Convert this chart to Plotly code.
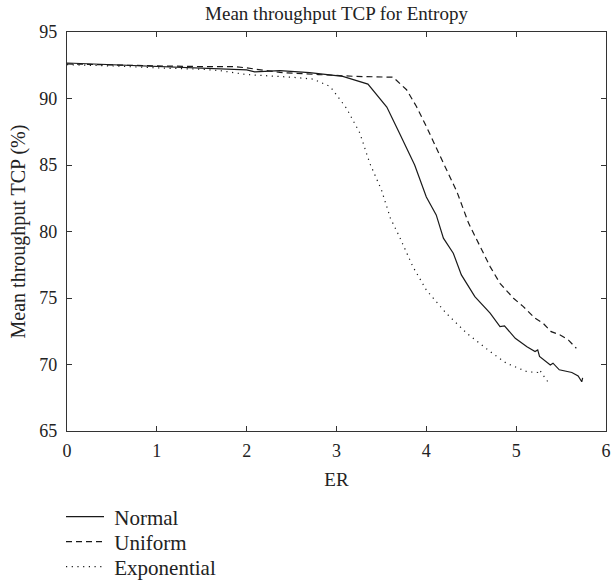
import plotly.graph_objects as go

normal_x = [0, 0.5, 1.0, 1.5, 2.0, 2.09, 2.37, 2.7, 3.07, 3.35, 3.56, 3.70, 3.87, 4.00, 4.11, 4.19, 4.30, 4.39,
            4.54, 4.71, 4.82, 4.87, 4.99, 5.12, 5.21, 5.24, 5.26, 5.38, 5.41, 5.48, 5.62, 5.69, 5.73, 5.74]
normal_y = [92.67, 92.55, 92.4, 92.3, 92.15, 92.0, 92.1, 91.95, 91.66, 91.08, 89.36, 87.4, 85.0, 82.6, 81.25, 79.5,
            78.37, 76.74, 75.1, 73.86, 72.85, 72.9, 71.97, 71.34, 70.97, 71.1, 70.6, 69.97, 70.1, 69.6, 69.4,
            69.14, 68.7, 69.0]

uniform_x = [0, 0.5, 1.0, 1.5, 1.86, 2.0, 2.2, 2.37, 2.8, 3.22, 3.63, 3.78, 3.89, 4.0, 4.19, 4.34, 4.47, 4.60,
             4.71, 4.82, 4.97, 5.08, 5.21, 5.30, 5.39, 5.49, 5.58, 5.67]
uniform_y = [92.6, 92.5, 92.45, 92.4, 92.4, 92.3, 92.1, 91.96, 91.8, 91.66, 91.6, 90.66, 89.4, 87.9, 85.14, 83.0,
             80.63, 78.87, 77.36, 76.1, 74.98, 74.35, 73.48, 73.1, 72.47, 72.22, 71.85, 71.22]

expo_x = [0, 0.5, 1.0, 1.5, 1.7, 2.0, 2.5, 2.74, 2.93, 3.11, 3.26, 3.37, 3.50, 3.60, 3.70, 3.85, 4.0, 4.22, 4.45,
          4.71, 4.89, 5.12, 5.24, 5.26, 5.30, 5.36]
expo_y = [92.54, 92.45, 92.3, 92.2, 92.1, 91.8, 91.6, 91.46, 90.9, 89.28, 87.4, 85.14, 83.13, 81.0, 79.62, 77.36,
          75.6, 73.86, 72.35, 70.97, 70.1, 69.46, 69.4, 69.6, 69.2, 68.63]

series_names = ["Normal", "Uniform", "Exponential"]
x_ticks = [0, 1, 2, 3, 4, 5, 6]
y_ticks = [65, 70, 75, 80, 85, 90, 95]

FONT = "Liberation Serif"
LC = "#1a1a1a"
TC = "#222222"

W, H = 613, 584
L, R, T, B = 67, 7, 32, 153
PW = W - L - R
PH = H - T - B

fig = go.Figure()
fig.add_trace(go.Scatter(x=normal_x, y=normal_y, mode="lines", name="\u00a0" + series_names[0], legend="legend",
                         line=dict(color=LC, width=1.2)))
fig.add_trace(go.Scatter(x=uniform_x, y=uniform_y, mode="lines", name="\u00a0" + series_names[1], legend="legend2",
                         line=dict(color=LC, width=1.2, dash="6px,4px")))
fig.add_trace(go.Scatter(x=expo_x, y=expo_y, mode="lines", name="\u00a0" + series_names[2], legend="legend3",
                         line=dict(color=LC, width=1.2, dash="1.2px,4.5px")))

axis_common = dict(showgrid=False, zeroline=False, showline=True, linecolor="#333333", linewidth=1.2,
                   mirror="ticks", ticks="inside", ticklen=5, tickcolor="#333333", tickwidth=1,
                   tickfont=dict(family=FONT, size=18, color=TC))


def legend_at(page_y):
    return dict(x=(61 - L) / PW, xanchor="left", y=(T + PH - page_y) / PH, yanchor="middle",
                font=dict(family=FONT, size=21, color=TC), bgcolor="rgba(0,0,0,0)", borderwidth=0,
                itemwidth=38)


fig.update_layout(
    width=W, height=H,
    margin=dict(l=L, r=R, t=T, b=B, pad=0, autoexpand=False),
    paper_bgcolor="white", plot_bgcolor="white",
    font=dict(family=FONT, color=TC),
    title=dict(text="Mean throughput TCP for Entropy", x=(L + PW / 2) / W, xanchor="center",
               y=1 - 13 / H, yanchor="middle", font=dict(family=FONT, size=19, color=TC)),
    xaxis=dict(range=[0, 6], tickvals=x_ticks, ticklabelstandoff=3,
               title=dict(text="ER", font=dict(family=FONT, size=19, color=TC), standoff=12),
               **axis_common),
    yaxis=dict(range=[65, 95], tickvals=y_ticks, ticklabelstandoff=5,
               title=dict(text="Mean throughput TCP (%)", font=dict(family=FONT, size=20, color=TC), standoff=8),
               **axis_common),
    legend=legend_at(517),
    legend2=legend_at(542),
    legend3=legend_at(567),
    showlegend=True,
)

# remove the browser's default 8px body margin so the figure fills the window exactly
fig.write_html("out.html", config={"displayModeBar": False},
               post_script="document.body.style.margin='0';")
